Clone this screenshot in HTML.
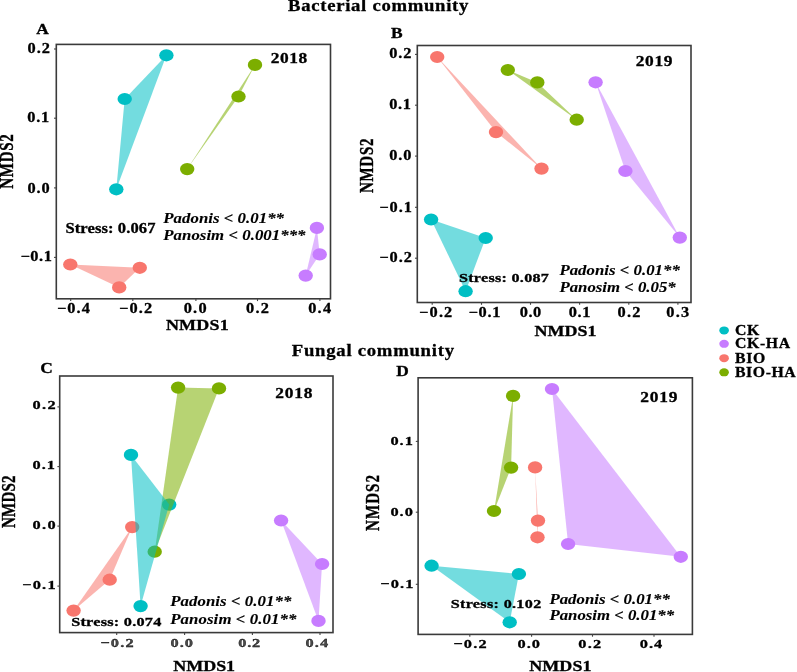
<!DOCTYPE html>
<html><head><meta charset="utf-8"><style>
html,body{margin:0;padding:0;background:#fff;width:797px;height:672px;overflow:hidden}
svg{display:block;filter:blur(0.45px)}
text{font-family:"Liberation Serif", serif;font-weight:bold;stroke:#000;stroke-width:0.3px}
</style></head><body>
<svg width="797" height="672" viewBox="0 0 797 672">
<rect width="797" height="672" fill="#fff"/>
<ellipse cx="166.4" cy="55.3" rx="7.2" ry="6.1" fill="#00BFC4"/>
<ellipse cx="124.7" cy="99" rx="7.2" ry="6.1" fill="#00BFC4"/>
<ellipse cx="116.3" cy="189.3" rx="7.2" ry="6.1" fill="#00BFC4"/>
<ellipse cx="255" cy="64.9" rx="7.2" ry="6.1" fill="#7CAE00"/>
<ellipse cx="238.5" cy="96.5" rx="7.2" ry="6.1" fill="#7CAE00"/>
<ellipse cx="187.2" cy="169.1" rx="7.2" ry="6.1" fill="#7CAE00"/>
<ellipse cx="70.3" cy="264.5" rx="7.2" ry="6.1" fill="#F8766D"/>
<ellipse cx="139.8" cy="267.8" rx="7.2" ry="6.1" fill="#F8766D"/>
<ellipse cx="119.2" cy="287.4" rx="7.2" ry="6.1" fill="#F8766D"/>
<ellipse cx="316.9" cy="227.9" rx="7.2" ry="6.1" fill="#C77CFF"/>
<ellipse cx="319.7" cy="254.4" rx="7.2" ry="6.1" fill="#C77CFF"/>
<ellipse cx="305.7" cy="275.6" rx="7.2" ry="6.1" fill="#C77CFF"/>
<polygon points="70.3,264.5 139.8,267.8 119.2,287.4" fill="#F8766D" fill-opacity="0.55"/>
<polygon points="255,64.9 238.5,96.5 187.2,169.1" fill="#7CAE00" fill-opacity="0.55"/>
<polygon points="166.4,55.3 124.7,99 116.3,189.3" fill="#00BFC4" fill-opacity="0.55"/>
<polygon points="316.9,227.9 319.7,254.4 305.7,275.6" fill="#C77CFF" fill-opacity="0.55"/>
<rect x="56.3" y="44.4" width="274.2" height="254.4" fill="none" stroke="#3a3a3a" stroke-width="1.6"/>
<line x1="54.0" y1="49" x2="56.3" y2="49" stroke="#444" stroke-width="1.1"/>
<line x1="54.0" y1="118.2" x2="56.3" y2="118.2" stroke="#444" stroke-width="1.1"/>
<line x1="54.0" y1="187.9" x2="56.3" y2="187.9" stroke="#444" stroke-width="1.1"/>
<line x1="54.0" y1="257.4" x2="56.3" y2="257.4" stroke="#444" stroke-width="1.1"/>
<line x1="70.7" y1="298.8" x2="70.7" y2="301.1" stroke="#444" stroke-width="1.1"/>
<line x1="132.8" y1="298.8" x2="132.8" y2="301.1" stroke="#444" stroke-width="1.1"/>
<line x1="195.9" y1="298.8" x2="195.9" y2="301.1" stroke="#444" stroke-width="1.1"/>
<line x1="257.5" y1="298.8" x2="257.5" y2="301.1" stroke="#444" stroke-width="1.1"/>
<line x1="319.9" y1="298.8" x2="319.9" y2="301.1" stroke="#444" stroke-width="1.1"/>
<ellipse cx="437.2" cy="57" rx="7.2" ry="6.1" fill="#F8766D"/>
<ellipse cx="496" cy="132.1" rx="7.2" ry="6.1" fill="#F8766D"/>
<ellipse cx="541.5" cy="168.6" rx="7.2" ry="6.1" fill="#F8766D"/>
<ellipse cx="507.8" cy="70" rx="7.2" ry="6.1" fill="#7CAE00"/>
<ellipse cx="537.3" cy="82.4" rx="7.2" ry="6.1" fill="#7CAE00"/>
<ellipse cx="576.7" cy="119.7" rx="7.2" ry="6.1" fill="#7CAE00"/>
<ellipse cx="595.6" cy="82.3" rx="7.2" ry="6.1" fill="#C77CFF"/>
<ellipse cx="625.4" cy="171" rx="7.2" ry="6.1" fill="#C77CFF"/>
<ellipse cx="679.8" cy="237.6" rx="7.2" ry="6.1" fill="#C77CFF"/>
<ellipse cx="431.1" cy="219.5" rx="7.2" ry="6.1" fill="#00BFC4"/>
<ellipse cx="485.7" cy="238" rx="7.2" ry="6.1" fill="#00BFC4"/>
<ellipse cx="465.6" cy="291.2" rx="7.2" ry="6.1" fill="#00BFC4"/>
<polygon points="437.2,57 496,132.1 541.5,168.6" fill="#F8766D" fill-opacity="0.55"/>
<polygon points="507.8,70 537.3,82.4 576.7,119.7" fill="#7CAE00" fill-opacity="0.55"/>
<polygon points="431.1,219.5 485.7,238 465.6,291.2" fill="#00BFC4" fill-opacity="0.55"/>
<polygon points="595.6,82.3 625.4,171 679.8,237.6" fill="#C77CFF" fill-opacity="0.55"/>
<rect x="417.3" y="45.5" width="273.7" height="257.0" fill="none" stroke="#3a3a3a" stroke-width="1.6"/>
<line x1="415.0" y1="54.4" x2="417.3" y2="54.4" stroke="#444" stroke-width="1.1"/>
<line x1="415.0" y1="105.2" x2="417.3" y2="105.2" stroke="#444" stroke-width="1.1"/>
<line x1="415.0" y1="156.1" x2="417.3" y2="156.1" stroke="#444" stroke-width="1.1"/>
<line x1="415.0" y1="207.3" x2="417.3" y2="207.3" stroke="#444" stroke-width="1.1"/>
<line x1="415.0" y1="258.2" x2="417.3" y2="258.2" stroke="#444" stroke-width="1.1"/>
<line x1="432.2" y1="302.5" x2="432.2" y2="304.8" stroke="#444" stroke-width="1.1"/>
<line x1="481.5" y1="302.5" x2="481.5" y2="304.8" stroke="#444" stroke-width="1.1"/>
<line x1="530.5" y1="302.5" x2="530.5" y2="304.8" stroke="#444" stroke-width="1.1"/>
<line x1="579.6" y1="302.5" x2="579.6" y2="304.8" stroke="#444" stroke-width="1.1"/>
<line x1="628.8" y1="302.5" x2="628.8" y2="304.8" stroke="#444" stroke-width="1.1"/>
<line x1="677.9" y1="302.5" x2="677.9" y2="304.8" stroke="#444" stroke-width="1.1"/>
<ellipse cx="131" cy="454.9" rx="7.2" ry="6.1" fill="#00BFC4"/>
<ellipse cx="169.2" cy="504.6" rx="7.2" ry="6.1" fill="#00BFC4"/>
<ellipse cx="140.6" cy="606.1" rx="7.2" ry="6.1" fill="#00BFC4"/>
<ellipse cx="178.1" cy="387.6" rx="7.2" ry="6.1" fill="#7CAE00"/>
<ellipse cx="219" cy="388.4" rx="7.2" ry="6.1" fill="#7CAE00"/>
<ellipse cx="154.7" cy="551.7" rx="7.2" ry="6.1" fill="#7CAE00"/>
<ellipse cx="132.2" cy="527.1" rx="7.2" ry="6.1" fill="#F8766D"/>
<ellipse cx="109.7" cy="579.7" rx="7.2" ry="6.1" fill="#F8766D"/>
<ellipse cx="73.6" cy="610.6" rx="7.2" ry="6.1" fill="#F8766D"/>
<ellipse cx="281.1" cy="520.5" rx="7.2" ry="6.1" fill="#C77CFF"/>
<ellipse cx="322.1" cy="564" rx="7.2" ry="6.1" fill="#C77CFF"/>
<ellipse cx="318.5" cy="620.9" rx="7.2" ry="6.1" fill="#C77CFF"/>
<polygon points="132.2,527.1 109.7,579.7 73.6,610.6" fill="#F8766D" fill-opacity="0.55"/>
<polygon points="178.1,387.6 219,388.4 154.7,551.7" fill="#7CAE00" fill-opacity="0.55"/>
<polygon points="131,454.9 169.2,504.6 140.6,606.1" fill="#00BFC4" fill-opacity="0.55"/>
<polygon points="281.1,520.5 322.1,564 318.5,620.9" fill="#C77CFF" fill-opacity="0.55"/>
<rect x="59.7" y="376" width="273.3" height="256.6" fill="none" stroke="#3a3a3a" stroke-width="1.6"/>
<line x1="57.400000000000006" y1="406.9" x2="59.7" y2="406.9" stroke="#444" stroke-width="1.1"/>
<line x1="57.400000000000006" y1="466.6" x2="59.7" y2="466.6" stroke="#444" stroke-width="1.1"/>
<line x1="57.400000000000006" y1="526.1" x2="59.7" y2="526.1" stroke="#444" stroke-width="1.1"/>
<line x1="57.400000000000006" y1="586.1" x2="59.7" y2="586.1" stroke="#444" stroke-width="1.1"/>
<line x1="116.7" y1="632.6" x2="116.7" y2="634.9" stroke="#444" stroke-width="1.1"/>
<line x1="184.6" y1="632.6" x2="184.6" y2="634.9" stroke="#444" stroke-width="1.1"/>
<line x1="252.4" y1="632.6" x2="252.4" y2="634.9" stroke="#444" stroke-width="1.1"/>
<line x1="320" y1="632.6" x2="320" y2="634.9" stroke="#444" stroke-width="1.1"/>
<ellipse cx="513.1" cy="395.9" rx="7.2" ry="6.1" fill="#7CAE00"/>
<ellipse cx="511.1" cy="467.6" rx="7.2" ry="6.1" fill="#7CAE00"/>
<ellipse cx="494" cy="511" rx="7.2" ry="6.1" fill="#7CAE00"/>
<ellipse cx="535.1" cy="467.4" rx="7.2" ry="6.1" fill="#F8766D"/>
<ellipse cx="538" cy="520.6" rx="7.2" ry="6.1" fill="#F8766D"/>
<ellipse cx="537.5" cy="537.3" rx="7.2" ry="6.1" fill="#F8766D"/>
<ellipse cx="552" cy="389" rx="7.2" ry="6.1" fill="#C77CFF"/>
<ellipse cx="680.8" cy="556.8" rx="7.2" ry="6.1" fill="#C77CFF"/>
<ellipse cx="568.1" cy="544" rx="7.2" ry="6.1" fill="#C77CFF"/>
<ellipse cx="431.6" cy="565.7" rx="7.2" ry="6.1" fill="#00BFC4"/>
<ellipse cx="518.9" cy="574" rx="7.2" ry="6.1" fill="#00BFC4"/>
<ellipse cx="509.7" cy="622.3" rx="7.2" ry="6.1" fill="#00BFC4"/>
<polygon points="535.1,467.4 538,520.6 537.5,537.3" fill="#F8766D" fill-opacity="0.55"/>
<polygon points="513.1,395.9 511.1,467.6 494,511" fill="#7CAE00" fill-opacity="0.55"/>
<polygon points="431.6,565.7 518.9,574 509.7,622.3" fill="#00BFC4" fill-opacity="0.55"/>
<polygon points="552,389 680.8,556.8 568.1,544" fill="#C77CFF" fill-opacity="0.55"/>
<rect x="418.1" y="377.8" width="274.29999999999995" height="256.59999999999997" fill="none" stroke="#3a3a3a" stroke-width="1.6"/>
<line x1="415.8" y1="441.4" x2="418.1" y2="441.4" stroke="#444" stroke-width="1.1"/>
<line x1="415.8" y1="512.2" x2="418.1" y2="512.2" stroke="#444" stroke-width="1.1"/>
<line x1="415.8" y1="584.3" x2="418.1" y2="584.3" stroke="#444" stroke-width="1.1"/>
<line x1="469.8" y1="634.4" x2="469.8" y2="636.6999999999999" stroke="#444" stroke-width="1.1"/>
<line x1="531.6" y1="634.4" x2="531.6" y2="636.6999999999999" stroke="#444" stroke-width="1.1"/>
<line x1="592.5" y1="634.4" x2="592.5" y2="636.6999999999999" stroke="#444" stroke-width="1.1"/>
<line x1="654" y1="634.4" x2="654" y2="636.6999999999999" stroke="#444" stroke-width="1.1"/>
<text transform="translate(27.50,52.92) scale(1.16,1)" font-size="14.1" textLength="19.31" lengthAdjust="spacing" style="">0.2</text>
<text transform="translate(27.30,122.32) scale(1.16,1)" font-size="14.1" textLength="18.79" lengthAdjust="spacing" style="">0.1</text>
<text transform="translate(27.40,192.82) scale(1.16,1)" font-size="14.1" textLength="19.14" lengthAdjust="spacing" style="">0.0</text>
<text transform="translate(20.40,261.32) scale(1.16,1)" font-size="14.1" textLength="27.07" lengthAdjust="spacing" style="">−0.1</text>
<text transform="translate(56.90,312.90) scale(1.16,1)" font-size="14.1" textLength="28.53" lengthAdjust="spacing" style="">−0.4</text>
<text transform="translate(119.00,312.90) scale(1.16,1)" font-size="14.1" textLength="28.53" lengthAdjust="spacing" style="">−0.2</text>
<text transform="translate(183.70,312.90) scale(1.16,1)" font-size="14.1" textLength="19.74" lengthAdjust="spacing" style="">0.0</text>
<text transform="translate(246.00,312.90) scale(1.16,1)" font-size="14.1" textLength="19.74" lengthAdjust="spacing" style="">0.2</text>
<text transform="translate(308.20,312.90) scale(1.16,1)" font-size="14.1" textLength="19.74" lengthAdjust="spacing" style="">0.4</text>
<text transform="translate(389.20,58.22) scale(1.16,1)" font-size="14.1" textLength="19.22" lengthAdjust="spacing" style="">0.2</text>
<text transform="translate(389.20,109.02) scale(1.16,1)" font-size="14.1" textLength="18.79" lengthAdjust="spacing" style="">0.1</text>
<text transform="translate(389.20,160.22) scale(1.16,1)" font-size="14.1" textLength="19.22" lengthAdjust="spacing" style="">0.0</text>
<text transform="translate(379.30,211.52) scale(1.16,1)" font-size="14.1" textLength="28.10" lengthAdjust="spacing" style="">−0.1</text>
<text transform="translate(379.30,262.02) scale(1.16,1)" font-size="14.1" textLength="28.10" lengthAdjust="spacing" style="">−0.2</text>
<text transform="translate(419.10,316.90) scale(1.16,1)" font-size="14.1" textLength="28.62" lengthAdjust="spacing" style="">−0.2</text>
<text transform="translate(468.40,316.90) scale(1.16,1)" font-size="14.1" textLength="27.67" lengthAdjust="spacing" style="">−0.1</text>
<text transform="translate(519.80,316.90) scale(1.16,1)" font-size="14.1" textLength="18.53" lengthAdjust="spacing" style="">0.0</text>
<text transform="translate(568.70,316.90) scale(1.16,1)" font-size="14.1" textLength="18.79" lengthAdjust="spacing" style="">0.1</text>
<text transform="translate(617.50,316.90) scale(1.16,1)" font-size="14.1" textLength="19.74" lengthAdjust="spacing" style="">0.2</text>
<text transform="translate(666.30,316.90) scale(1.16,1)" font-size="14.1" textLength="19.66" lengthAdjust="spacing" style="">0.3</text>
<text transform="translate(32.50,409.32) scale(1.298095238095238,1)" font-size="12.6" textLength="17.80" lengthAdjust="spacing" style="">0.2</text>
<text transform="translate(32.50,469.32) scale(1.298095238095238,1)" font-size="12.6" textLength="17.33" lengthAdjust="spacing" style="">0.1</text>
<text transform="translate(32.50,528.92) scale(1.298095238095238,1)" font-size="12.6" textLength="17.80" lengthAdjust="spacing" style="">0.0</text>
<text transform="translate(22.10,588.92) scale(1.298095238095238,1)" font-size="12.6" textLength="25.81" lengthAdjust="spacing" style="">−0.1</text>
<text transform="translate(100.20,646.50) scale(1.2778124999999998,1)" font-size="12.8" textLength="26.22" lengthAdjust="spacing" style="" fill="#4a4a4a" stroke="#4a4a4a">−0.2</text>
<text transform="translate(170.50,646.50) scale(1.2778124999999998,1)" font-size="12.8" textLength="17.61" lengthAdjust="spacing" style="" fill="#4a4a4a" stroke="#4a4a4a">0.0</text>
<text transform="translate(238.30,646.50) scale(1.2778124999999998,1)" font-size="12.8" textLength="17.14" lengthAdjust="spacing" style="" fill="#4a4a4a" stroke="#4a4a4a">0.2</text>
<text transform="translate(305.60,646.50) scale(1.2778124999999998,1)" font-size="12.8" textLength="17.69" lengthAdjust="spacing" style="" fill="#4a4a4a" stroke="#4a4a4a">0.4</text>
<text transform="translate(390.40,444.92) scale(1.239090909090909,1)" font-size="13.2" textLength="18.16" lengthAdjust="spacing" style="">0.1</text>
<text transform="translate(390.40,515.72) scale(1.239090909090909,1)" font-size="13.2" textLength="18.16" lengthAdjust="spacing" style="">0.0</text>
<text transform="translate(380.30,587.82) scale(1.239090909090909,1)" font-size="13.2" textLength="26.79" lengthAdjust="spacing" style="">−0.1</text>
<text transform="translate(453.40,647.90) scale(1.2205970149253729,1)" font-size="13.4" textLength="27.20" lengthAdjust="spacing" style="">−0.2</text>
<text transform="translate(517.60,647.90) scale(1.2205970149253729,1)" font-size="13.4" textLength="18.35" lengthAdjust="spacing" style="">0.0</text>
<text transform="translate(578.20,647.90) scale(1.2205970149253729,1)" font-size="13.4" textLength="18.84" lengthAdjust="spacing" style="">0.2</text>
<text transform="translate(639.80,647.90) scale(1.2205970149253729,1)" font-size="13.4" textLength="18.35" lengthAdjust="spacing" style="">0.4</text>
<text transform="translate(288.00,11.20) scale(1.1,1)" font-size="17" textLength="164.00" lengthAdjust="spacing" style="">Bacterial community</text>
<text transform="translate(291.80,356.20) scale(1.1,1)" font-size="17" textLength="147.45" lengthAdjust="spacing" style="">Fungal community</text>
<text transform="translate(36.30,34.40) scale(1.2,1)" font-size="14.5" textLength="10.25" lengthAdjust="spacing" style="">A</text>
<text transform="translate(391.10,37.60) scale(1.2,1)" font-size="14.5" textLength="10.33" lengthAdjust="spacing" style="">B</text>
<text transform="translate(40.30,373.20) scale(1.2,1)" font-size="14.5" textLength="11.00" lengthAdjust="spacing" style="">C</text>
<text transform="translate(396.20,375.80) scale(1.2,1)" font-size="14.5" textLength="9.92" lengthAdjust="spacing" style="">D</text>
<text transform="translate(270.70,62.60) scale(1.2,1)" font-size="14.5" textLength="30.50" lengthAdjust="spacing" style="">2018</text>
<text transform="translate(635.70,65.80) scale(1.2,1)" font-size="14.5" textLength="30.67" lengthAdjust="spacing" style="">2019</text>
<text transform="translate(275.20,398.10) scale(1.2,1)" font-size="14.5" textLength="31.00" lengthAdjust="spacing" style="">2018</text>
<text transform="translate(640.20,401.80) scale(1.2,1)" font-size="14.5" textLength="31.00" lengthAdjust="spacing" style="">2019</text>
<text transform="translate(165.90,330.30) scale(1.2,1)" font-size="15" textLength="52.33" lengthAdjust="spacing" style="">NMDS1</text>
<text transform="translate(534.60,335.60) scale(1.2,1)" font-size="15" textLength="51.50" lengthAdjust="spacing" style="">NMDS1</text>
<text transform="translate(173.30,670.70) scale(1.2,1)" font-size="15" textLength="51.50" lengthAdjust="spacing" style="">NMDS1</text>
<text transform="translate(529.20,670.50) scale(1.2,1)" font-size="15" textLength="51.92" lengthAdjust="spacing" style="">NMDS1</text>
<text transform="translate(12.90,188.70) rotate(-90) scale(1,1.28)" font-size="15" textLength="54.40" lengthAdjust="spacing">NMDS2</text>
<text transform="translate(372.60,193.10) rotate(-90) scale(1,1.28)" font-size="15" textLength="54.60" lengthAdjust="spacing">NMDS2</text>
<text transform="translate(14.50,528.00) rotate(-90) scale(1,1.28)" font-size="15" textLength="52.50" lengthAdjust="spacing">NMDS2</text>
<text transform="translate(378.90,531.00) rotate(-90) scale(1,1.28)" font-size="15" textLength="56.00" lengthAdjust="spacing">NMDS2</text>
<text transform="translate(65.40,232.50) scale(1.2,1)" font-size="13.8" textLength="75.08" lengthAdjust="spacing" style="">Stress: 0.067</text>
<text transform="translate(458.90,282.00) scale(1.28,1)" font-size="12.6" textLength="70.31" lengthAdjust="spacing" style="">Stress: 0.087</text>
<text transform="translate(71.20,626.30) scale(1.27,1)" font-size="12.8" textLength="70.94" lengthAdjust="spacing" style="">Stress: 0.074</text>
<text transform="translate(450.70,608.00) scale(1.28,1)" font-size="12.6" textLength="70.70" lengthAdjust="spacing" style="">Stress: 0.102</text>
<text transform="translate(163.30,222.90) scale(1.2,1)" font-size="14" textLength="100.58" lengthAdjust="spacing" style="font-style:italic;stroke-width:0.1px;">Padonis &lt; 0.01**</text>
<text transform="translate(163.30,239.80) scale(1.2,1)" font-size="14" textLength="118.50" lengthAdjust="spacing" style="font-style:italic;stroke-width:0.1px;">Panosim &lt; 0.001***</text>
<text transform="translate(559.40,275.00) scale(1.2,1)" font-size="14" textLength="100.33" lengthAdjust="spacing" style="font-style:italic;stroke-width:0.1px;">Padonis &lt; 0.01**</text>
<text transform="translate(559.40,292.40) scale(1.2,1)" font-size="14" textLength="96.92" lengthAdjust="spacing" style="font-style:italic;stroke-width:0.1px;">Panosim &lt; 0.05*</text>
<text transform="translate(170.20,606.10) scale(1.2,1)" font-size="14" textLength="100.92" lengthAdjust="spacing" style="font-style:italic;stroke-width:0.1px;">Padonis &lt; 0.01**</text>
<text transform="translate(170.20,623.50) scale(1.2,1)" font-size="14" textLength="105.25" lengthAdjust="spacing" style="font-style:italic;stroke-width:0.1px;">Panosim &lt; 0.01**</text>
<text transform="translate(549.40,603.50) scale(1.2,1)" font-size="14" textLength="100.33" lengthAdjust="spacing" style="font-style:italic;stroke-width:0.1px;">Padonis &lt; 0.01**</text>
<text transform="translate(549.40,620.10) scale(1.2,1)" font-size="14" textLength="103.92" lengthAdjust="spacing" style="font-style:italic;stroke-width:0.1px;">Panosim &lt; 0.01**</text>
<ellipse cx="724.1" cy="330.4" rx="4.8" ry="4.0" fill="#00BFC4"/>
<ellipse cx="724.1" cy="343.8" rx="4.8" ry="4.0" fill="#C77CFF"/>
<ellipse cx="724.1" cy="358.2" rx="4.8" ry="4.0" fill="#F8766D"/>
<ellipse cx="724.1" cy="372.3" rx="4.8" ry="4.0" fill="#7CAE00"/>
<text transform="translate(735.00,334.90) scale(1.16,1)" font-size="13.6" textLength="20.95" lengthAdjust="spacing" style="">CK</text>
<text transform="translate(735.00,348.30) scale(1.16,1)" font-size="13.6" textLength="47.50" lengthAdjust="spacing" style="">CK-HA</text>
<text transform="translate(735.00,362.70) scale(1.16,1)" font-size="13.6" textLength="26.12" lengthAdjust="spacing" style="">BIO</text>
<text transform="translate(735.00,376.80) scale(1.16,1)" font-size="13.6" textLength="52.33" lengthAdjust="spacing" style="">BIO-HA</text>
</svg></body></html>
